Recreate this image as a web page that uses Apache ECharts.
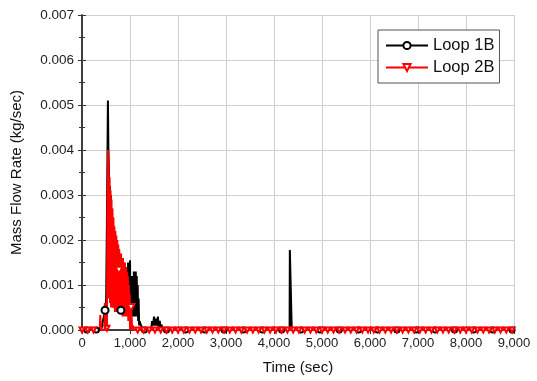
<!DOCTYPE html>
<html>
<head>
<meta charset="utf-8">
<script src="https://cdn.jsdelivr.net/npm/echarts@6/dist/echarts.min.js"></script>
<style>
  html, body { margin: 0; padding: 0; background: #fff; }
  #main { width: 537px; height: 381px; }
</style>
</head>
<body>
<div id="main"></div>
<script>
// Loop 1B (black)
var loop1bTime = [0, 400, 490, 500, 520, 540, 550,
  560, 570, 580, 590, 600, 610, 620, 630, 640, 650, 660, 670, 680, 690, 700, 710, 720, 730, 740, 750,
  760, 770, 780, 790, 800, 810, 820, 830, 840, 850, 860, 870, 880, 890, 900, 910, 920, 930, 940, 950,
  960, 970, 980, 990, 1000, 1010, 1020, 1030, 1040, 1050, 1060, 1070, 1080, 1090, 1100, 1110, 1120, 1130, 1140, 1150,
  1160, 1170, 1180, 1190, 1200, 1230, 1260, 1300, 1440, 1460, 1480, 1500, 1520, 1540,
  1560, 1580, 1600, 1620, 1640, 1660, 1680, 4325, 4330, 4365, 4370, 9000];
var loop1bFlow = [0, 0, 0.0001, 0.0003, 0.0025, 0.0051, 0.0040,
  0.0036, 0.0008, 0.0032, 0.0007, 0.0030, 0.0006, 0.0027, 0.0006, 0.0025, 0.0005, 0.0023, 0.0005, 0.0021, 0.0005, 0.0020, 0.0004, 0.0019, 0.0004, 0.0018, 0.0004,
  0.0018, 0.0004, 0.0017, 0.0004, 0.0016, 0.0004, 0.0016, 0.0004, 0.0015, 0.0004, 0.0015, 0.0004, 0.0014, 0.0004, 0.0014, 0.0004, 0.0013, 0.0004, 0.0014, 0.0004,
  0.0015, 0.0004, 0.0015, 0.0004, 0.00155, 0.0003, 0.0012, 0.0003, 0.0011, 0.0003, 0.0012, 0.0003, 0.0013, 0.0003, 0.0012, 0.0003, 0.0013, 0.0003, 0.0012, 0.0003,
  0.0010, 0.0002, 0.0007, 0.0001, 0.0002, 0.0001, 0.00005, 0, 0, 0.0002, 0.0001, 0.0003, 0.0001, 0.00025,
  0.0001, 0.0003, 0.00005, 0.0002, 0.00005, 0.00012, 0, 0, 0.00178, 0.00178, 0, 0];
var loop1bMarkTime = [100, 300, 480, 810, 1300, 1760, 2160, 2560, 2960, 3360, 3760, 4160, 4560, 4960, 5360, 5760, 6160, 6560,
  6960, 7360, 7760, 8160, 8560, 8960];
var loop1bMarkFlow = [0, 0, 0.00044, 0.00044, 0, 0, 0, 0, 0, 0, 0, 0, 0, 0, 0, 0, 0, 0,
  0, 0, 0, 0, 0, 0];

// Loop 2B (red)
var loop2bTime = [0, 370, 380, 395, 400, 470, 475, 490, 495, 510, 530, 545, 555,
  565, 575, 585, 595, 605, 615, 625, 635, 645, 655, 665, 675, 685, 695, 705, 715, 725, 735, 745, 755,
  765, 775, 785, 795, 805, 815, 825, 835, 845, 855, 865, 875, 885, 895, 905, 915, 925, 935, 945, 955,
  965, 975, 985, 995, 1000, 1035, 1045, 1060, 1080, 9000];
var loop2bFlow = [0, 0, 0.00033, 0.00033, 0, 0, 0.0006, 0.0006, 0.0001, 0.0002, 0.0030, 0.0040, 0.0037,
  0.0007, 0.0034, 0.0006, 0.0031, 0.0005, 0.0029, 0.0005, 0.0027, 0.0005, 0.0025, 0.0005, 0.0023, 0.0004, 0.0022, 0.0004, 0.0021, 0.0004, 0.0020, 0.0004, 0.0019,
  0.0004, 0.0018, 0.0004, 0.0017, 0.0004, 0.0017, 0.0004, 0.0016, 0.0003, 0.0016, 0.0003, 0.0015, 0.0003, 0.0015, 0.0003, 0.0014, 0.0003, 0.0013, 0.0003, 0.0012,
  0.0002, 0.0010, 0.0002, 0.0008, 0, 0.0003, 0, 0.0001, 0, 0];
var loop2bMarkTime = [0, 120, 240, 520, 770, 1020, 1160, 1280, 1400, 1520, 1640, 1760, 1880, 2000, 2120, 2240, 2360, 2480, 2600, 2720,
  2840, 2960, 3080, 3200, 3320, 3440, 3560, 3680, 3800, 3920, 4040, 4160, 4280, 4400, 4520, 4640, 4760, 4880, 5000, 5120,
  5240, 5360, 5480, 5600, 5720, 5840, 5960, 6080, 6200, 6320, 6440, 6560, 6680, 6800, 6920, 7040, 7160, 7280, 7400, 7520,
  7640, 7760, 7880, 8000, 8120, 8240, 8360, 8480, 8600, 8720, 8840, 8960];
var loop2bMarkFlow = [0, 0, 0, 0.00004, 0.00133, 0.0005, 0, 0, 0, 0, 0, 0, 0, 0, 0, 0, 0, 0, 0, 0,
  0, 0, 0, 0, 0, 0, 0, 0, 0, 0, 0, 0, 0, 0, 0, 0, 0, 0, 0, 0,
  0, 0, 0, 0, 0, 0, 0, 0, 0, 0, 0, 0, 0, 0, 0, 0, 0, 0, 0, 0,
  0, 0, 0, 0, 0, 0, 0, 0, 0, 0, 0, 0];

function buildData(ts, vs, mts, mvs) {
  var pts = [];
  for (var i = 0; i < ts.length; i++) pts.push({ value: [ts[i], vs[i]], symbol: 'none' });
  for (var j = 0; j < mts.length; j++) {
    // markers lying on the zero line are drawn smaller
    pts.push({ value: [mts[j], mvs[j]], symbolSize: mvs[j] > 0.0001 ? 7 : 5 });
  }
  pts.sort(function (a, b) { return a.value[0] - b.value[0]; });
  return pts;
}

var axisColor = '#333';
var font = 'Liberation Sans, Arial, sans-serif';

var chart = echarts.init(document.getElementById('main'));
var option = {
  backgroundColor: '#fff',
  animation: false,
  grid: { left: 82, right: 23, top: 15, bottom: 51 },
  legend: {
    left: 378, top: 30,
    orient: 'vertical',
    padding: [7, 5, 7, 7],
    itemGap: 5,
    itemWidth: 42, itemHeight: 9,
    backgroundColor: '#fff',
    borderColor: '#555', borderWidth: 1,
    textStyle: { fontFamily: font, fontSize: 16.5, color: '#111' },
    data: ['Loop 1B', 'Loop 2B']
  },
  xAxis: [{
    type: 'value', min: 0, max: 9000, interval: 1000,
    name: 'Time (sec)', nameLocation: 'middle', nameGap: 30,
    nameTextStyle: { fontFamily: font, fontSize: 15, color: '#111' },
    axisLine: { lineStyle: { color: axisColor, width: 1.5 } },
    axisTick: { inside: true, length: 4, lineStyle: { color: axisColor } },
    axisLabel: {
      fontFamily: font, fontSize: 13, color: '#222', margin: 7,
      formatter: function (v) { return v.toLocaleString('en-US'); }
    },
    splitLine: { show: true, lineStyle: { color: '#cfcfcf', width: 1 } }
  }, {
    type: 'value', position: 'top', min: 0, max: 9000, interval: 1000,
    axisLine: { show: true, lineStyle: { color: axisColor, width: 1.5 } },
    axisTick: { inside: true, length: 4, lineStyle: { color: axisColor } },
    axisLabel: { show: false }, splitLine: { show: false }
  }],
  yAxis: [{
    type: 'value', min: 0, max: 0.007, interval: 0.001,
    name: 'Mass Flow Rate (kg/sec)', nameLocation: 'middle', nameGap: 58,
    nameTextStyle: { fontFamily: font, fontSize: 15, color: '#111' },
    axisLine: { show: true, lineStyle: { color: axisColor, width: 1.5 } },
    axisTick: { inside: true, length: 4, lineStyle: { color: axisColor } },
    minorTick: { show: true, splitNumber: 2, length: 3, lineStyle: { color: axisColor } },
    axisLabel: {
      fontFamily: font, fontSize: 13.5, color: '#222', margin: 8,
      formatter: function (v) { return v.toFixed(3); }
    },
    splitLine: { show: true, lineStyle: { color: '#cfcfcf', width: 1 } }
  }, {
    type: 'value', position: 'right', min: 0, max: 0.007, interval: 0.001,
    axisLine: { show: true, lineStyle: { color: axisColor, width: 1.5 } },
    axisTick: { inside: true, length: 4, lineStyle: { color: axisColor } },
    minorTick: { show: true, splitNumber: 2, length: 3, lineStyle: { color: axisColor } },
    axisLabel: { show: false }, splitLine: { show: false }
  }],
  series: [{
    name: 'Loop 1B', type: 'line',
    color: '#000',
    symbol: 'emptyCircle', symbolSize: 7,
    showSymbol: true, showAllSymbol: true,
    lineStyle: { color: '#000', width: 2 },
    itemStyle: { color: '#000', borderWidth: 1 },
    data: buildData(loop1bTime, loop1bFlow, loop1bMarkTime, loop1bMarkFlow)
  }, {
    name: 'Loop 2B', type: 'line',
    color: '#ff0000',
    symbol: 'emptyTriangle', symbolSize: 7, symbolRotate: 180,
    showSymbol: true, showAllSymbol: true,
    lineStyle: { color: '#ff0000', width: 2 },
    itemStyle: { color: '#ff0000', borderWidth: 1 },
    data: buildData(loop2bTime, loop2bFlow, loop2bMarkTime, loop2bMarkFlow)
  }]
};
chart.setOption(option);
</script>
</body>
</html>
